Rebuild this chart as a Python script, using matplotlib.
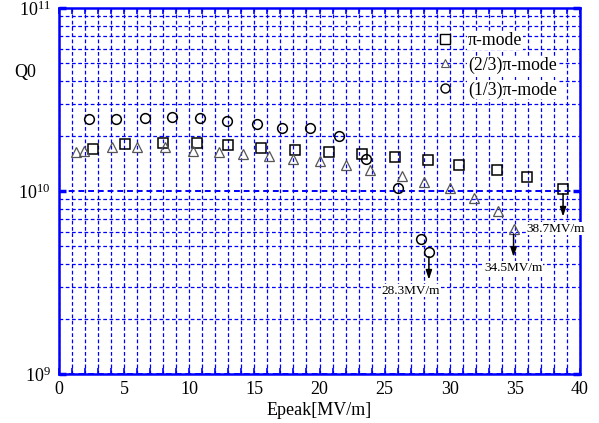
import matplotlib
matplotlib.use('Agg')
import matplotlib.pyplot as plt
from matplotlib.transforms import offset_copy
from matplotlib.ticker import LogLocator, NullFormatter, MultipleLocator
from matplotlib.lines import Line2D

plt.rcParams['font.family'] = ['Liberation Serif', 'DejaVu Serif']
plt.rcParams['mathtext.fontset'] = 'custom'
plt.rcParams['mathtext.rm'] = 'Liberation Serif'
plt.rcParams['mathtext.it'] = 'Liberation Serif:italic'

# ---- data ----
pi_E = [2.6, 5.1, 8.0, 10.6, 13.0, 15.5, 18.1, 20.7, 23.3, 25.8, 28.3, 30.7, 33.6, 35.9, 38.7]
pi_Q = [1.69e10, 1.81e10, 1.82e10, 1.84e10, 1.78e10, 1.72e10, 1.68e10, 1.63e10,
        1.59e10, 1.54e10, 1.47e10, 1.39e10, 1.31e10, 1.19e10, 1.03e10]

tt_E = [1.3, 1.9, 4.1, 6.0, 8.1, 10.3, 12.3, 14.1, 16.1, 18.0, 20.0, 22.0, 23.9,
        26.3, 28.0, 30.0, 31.9, 33.7, 34.9]
tt_Q = [1.64e10, 1.65e10, 1.73e10, 1.73e10, 1.74e10, 1.66e10, 1.63e10, 1.59e10,
        1.55e10, 1.50e10, 1.45e10, 1.39e10, 1.30e10, 1.21e10, 1.12e10, 1.035e10,
        9.1e9, 7.8e9, 6.2e9]

ot_E = [2.3, 4.4, 6.6, 8.7, 10.8, 12.9, 15.2, 17.1, 19.3, 21.5, 23.6, 26.0, 27.8, 28.4]
ot_Q = [2.46e10, 2.46e10, 2.51e10, 2.55e10, 2.49e10, 2.42e10, 2.33e10, 2.20e10,
        2.22e10, 2.01e10, 1.50e10, 1.04e10, 5.5e9, 4.66e9]

series_labels = ['\u03c0-mode', '(2/3)\u03c0-mode', '(1/3)\u03c0-mode']
quench_labels = ['38.7MV/m', '34.5MV/m', '28.3MV/m']

xticks = [0, 5, 10, 15, 20, 25, 30, 35, 40]

# ---- figure ----
fig = plt.figure(figsize=(5.99, 4.23), dpi=100)
ax = fig.add_axes([59/599, 1-374/423, 521/599, 366/423])
ax.set_yscale('log')
ax.set_xlim(0, 40)
ax.set_ylim(1e9, 1e11)

blue = '#0000ff'
ax.xaxis.set_major_locator(MultipleLocator(5))
ax.xaxis.set_minor_locator(MultipleLocator(1))
ax.set_xticks(xticks)
ax.yaxis.set_major_locator(LogLocator(base=10))
ax.yaxis.set_minor_locator(LogLocator(base=10, subs=[2, 3, 4, 5, 6, 7, 8, 9]))
ax.yaxis.set_minor_formatter(NullFormatter())

dash = (0, (3, 2))
ax.grid(True, which='major', axis='x', color=blue, lw=0.9, linestyle=dash)
ax.grid(True, which='minor', axis='x', color=blue, lw=0.9, linestyle=dash)
ax.grid(True, which='major', axis='y', color=blue, lw=1.4, linestyle=dash)
ax.grid(True, which='minor', axis='y', color=blue, lw=0.9, linestyle=dash)
ax.set_axisbelow(True)

for s in ax.spines.values():
    s.set_color(blue)
    s.set_linewidth(1.8)
ax.tick_params(which='both', direction='in', top=True, right=True, color=blue,
               labelsize=13, labelcolor='black')
ax.tick_params(axis='x', which='both', length=4, width=1.2, pad=5)
ax.tick_params(axis='y', which='major', length=5, width=2.5, pad=6)
ax.tick_params(axis='y', which='minor', length=0)

# ---- series ----
ax.plot(pi_E, pi_Q, linestyle='none', marker='s', ms=7, mfc='none', mec='black', mew=1.1, zorder=3)
ax.plot(tt_E, tt_Q, linestyle='none', marker='^', ms=7, mfc='none', mec='#555555', mew=0.9, zorder=3)
ax.plot(ot_E, ot_Q, linestyle='none', marker='o', ms=7, mfc='none', mec='black', mew=1.1, zorder=3)

# ---- quench arrows & labels ----
ends = [(pi_E[-1], pi_Q[-1]), (tt_E[-1], tt_Q[-1]), (ot_E[-1], ot_Q[-1])]
label_offsets = [(-7, -40), (0, -39), (-18, -39)]
for (xe, qe), lab, off in zip(ends, quench_labels, label_offsets):
    start_t = offset_copy(ax.transData, fig=fig, x=0, y=-5, units='dots')
    end_t = offset_copy(ax.transData, fig=fig, x=0, y=-28, units='dots')
    ax.annotate('', xy=(xe, qe), xycoords=end_t, xytext=(xe, qe), textcoords=start_t,
                arrowprops=dict(arrowstyle='-|>,head_length=0.55,head_width=0.18',
                                color='black', lw=1.1, shrinkA=0, shrinkB=0), zorder=4)
    ax.annotate(lab, xy=(xe, qe), xytext=off, textcoords='offset pixels',
                ha='center', va='center', fontsize=9.5, zorder=5,
                bbox=dict(boxstyle='square,pad=0.05', fc='white', ec='none'))

# ---- legend ----
handles = [
    Line2D([], [], linestyle='none', marker='s', ms=7, mfc='white', mec='black', mew=1.0),
    Line2D([], [], linestyle='none', marker='^', ms=6, mfc='white', mec='#555555', mew=0.8),
    Line2D([], [], linestyle='none', marker='o', ms=6.5, mfc='white', mec='black', mew=1.0),
]
leg = ax.legend(handles, series_labels, loc='upper left',
                bbox_to_anchor=((437 - 59) / 521, 1 - (32 - 8) / 366),
                frameon=False, fontsize=12.8, handlelength=0.9, handletextpad=0.85,
                labelspacing=0.42, borderaxespad=0, borderpad=0)
for t in leg.get_texts():
    t.set_bbox(dict(boxstyle='square,pad=0.05', fc='white', ec='none'))

# ---- axis labels ----
ax.set_xlabel('Epeak[MV/m]', fontsize=13, labelpad=3)
fig.text(25/599, 1-72/423, 'Q0', fontsize=13, ha='center', va='center')

fig.savefig('out.png', dpi=100)
